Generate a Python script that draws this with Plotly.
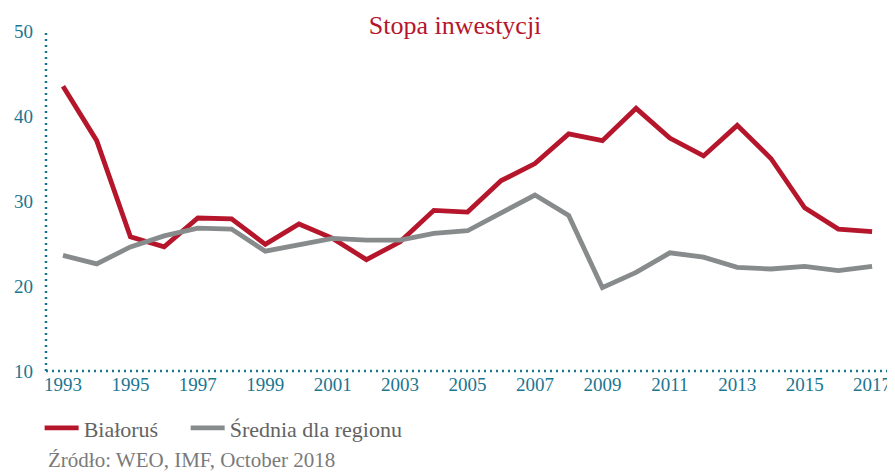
import plotly.graph_objects as go

years = list(range(1993, 2018))
bialorus = [43.5, 37.1, 25.8, 24.6, 28.0, 27.9, 24.9, 27.3, 25.6, 23.1, 25.2, 28.9, 28.7,
            32.4, 34.4, 37.9, 37.1, 40.9, 37.4, 35.3, 38.9, 35.0, 29.2, 26.7, 26.4]
srednia = [23.6, 22.6, 24.6, 25.9, 26.8, 26.7, 24.1, 24.8, 25.6, 25.4, 25.4, 26.2, 26.5,
           28.6, 30.7, 28.3, 19.8, 21.6, 23.9, 23.4, 22.2, 22.0, 22.3, 21.8, 22.3]
x_ticks = list(range(1993, 2018, 2))
y_ticks = [10, 20, 30, 40, 50]

RED = "#b5162b"
GRAY = "#878b8c"
TEAL = "#1b7690"
FONT = "Liberation Serif"

fig = go.Figure()
fig.add_trace(go.Scatter(x=years, y=bialorus, mode="lines", name="Białoruś",
                         legend="legend", line=dict(color=RED, width=4.8)))
fig.add_trace(go.Scatter(x=years, y=srednia, mode="lines", name="Średnia dla regionu",
                         legend="legend2", line=dict(color=GRAY, width=4.8)))

legend_font = dict(family=FONT, size=22, color="#636363")

# page body has an 8px margin, so the figure is sized to end at the window edge
fig.update_layout(
    width=887, height=464,
    margin=dict(l=38, r=0, t=23, b=101, autoexpand=False),
    paper_bgcolor="white", plot_bgcolor="white",
    font=dict(family=FONT),
    title=dict(text="Stopa inwestycji", x=0.504, xanchor="center", y=0.963, yanchor="middle",
               font=dict(family=FONT, size=26, color=RED)),
    showlegend=True,
    legend=dict(orientation="h", x=-0.0075, xanchor="left", y=-0.168, yanchor="middle",
                font=legend_font, itemwidth=34, bgcolor="rgba(0,0,0,0)"),
    legend2=dict(orientation="h", x=0.1645, xanchor="left", y=-0.168, yanchor="middle",
                 font=legend_font, itemwidth=34, bgcolor="rgba(0,0,0,0)"),
    xaxis=dict(range=[1992.496, 2017.68], tickvals=x_ticks, ticktext=[str(v) for v in x_ticks],
               showgrid=False, zeroline=False, showline=False, ticks="", automargin=False,
               ticklabeloverflow="allow",
               tickfont=dict(family=FONT, size=19, color=TEAL), ticklabelstandoff=0),
    yaxis=dict(range=[10, 50], tickvals=y_ticks, showgrid=False, zeroline=False,
               showline=False, ticks="", automargin=False,
               tickfont=dict(family=FONT, size=19, color=TEAL), ticklabelstandoff=12),
    shapes=[
        dict(type="line", xref="paper", yref="paper", x0=0, x1=0, y0=0, y1=1,
             line=dict(color=TEAL, width=2.5, dash="2px,4px")),
        dict(type="line", xref="paper", yref="paper", x0=0, x1=0.994, y0=0, y1=0,
             line=dict(color=TEAL, width=2.5, dash="2px,4px")),
    ],
    annotations=[
        dict(text="Źródło: WEO, IMF, October 2018", xref="paper", yref="paper",
             x=0.0, xanchor="left", y=-0.263, yanchor="middle", showarrow=False,
             font=dict(family=FONT, size=21, color="#7a7a7a")),
    ],
)

fig.write_html("out.html")
